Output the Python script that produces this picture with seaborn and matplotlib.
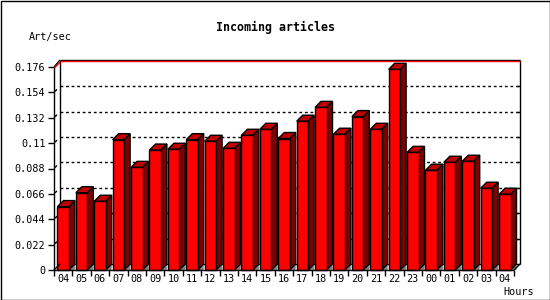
import numpy as np
import pandas as pd
import matplotlib
matplotlib.use("Agg")
import matplotlib.pyplot as plt
import seaborn as sns
from matplotlib.patches import Polygon, Rectangle
from matplotlib.lines import Line2D

# ---- data ----
hours = ["04", "05", "06", "07", "08", "09", "10", "11", "12", "13", "14", "15",
         "16", "17", "18", "19", "20", "21", "22", "23", "00", "01", "02", "03", "04"]
rates = [0.055, 0.067, 0.0596, 0.113, 0.089, 0.104, 0.1047, 0.113, 0.1116, 0.1055,
         0.1168, 0.122, 0.114, 0.129, 0.141, 0.1177, 0.133, 0.122, 0.174, 0.102,
         0.0865, 0.0934, 0.0943, 0.0709, 0.0657]
ytick_vals = [0, 0.022, 0.044, 0.066, 0.088, 0.11, 0.132, 0.154, 0.176]
ytick_labels = ["0", "0.022", "0.044", "0.066", "0.088", "0.11", "0.132", "0.154", "0.176"]
title = "Incoming articles"
ylabel = "Art/sec"
xlabel = "Hours"

sns.set_style("white")
plt.rcParams["font.family"] = ["DejaVu Sans Mono", "DejaVu Sans"]

W, H = 550, 300
fig = plt.figure(figsize=(W / 100, H / 100), dpi=100)
fig.patch.set_facecolor("white")
ax = fig.add_axes([54 / W, 30 / H, 460 / W, 203 / H])
ax.set_facecolor("none")

df = pd.DataFrame({"slot": list(range(len(rates))), "rate": rates})
sns.barplot(data=df, x="slot", y="rate", color="#ff0000", saturation=1, width=0.62,
            edgecolor="black", linewidth=1, ax=ax, zorder=5)

xl, xr = -0.5, len(rates) - 0.5
ymax = ytick_vals[-1]
ax.set_xlim(xl, xr)
ax.set_ylim(0, ymax)
for s in ax.spines.values():
    s.set_visible(False)

D = 6


def back(x, y, dx=D, dy=D):
    px, py = ax.transData.transform((x, y))
    return tuple(ax.transData.inverted().transform((px + dx, py + dy)))


def line(p, q, color="black", lw=1, z=6, ls="-"):
    ax.add_line(Line2D([p[0], q[0]], [p[1], q[1]], color=color, lw=lw, zorder=z,
                       linestyle=ls, clip_on=False, solid_capstyle="butt"))


# back wall & grid
BL = back(xl, 0)
TL = back(xl, ymax, dy=D + 1)
TR = back(xr, ymax, dy=D + 1)
BR = back(xr, 0)
line(BL, TL, z=1)
line(TL, TR, z=1)
line(TR, BR, z=1)
line(BL, BR, z=1)
line(back(xl, ymax, dy=D - 0.5), back(xr, ymax, dy=D - 0.5), color="#ff0000", z=1)
for v in ytick_vals[1:-1]:
    line(back(xl, v), back(xr, v), ls=(0, (2, 2)), z=1)
    # little diagonal mark near front axis
    line(back(xl, v, 1, 1), back(xl, v, 3, 3), z=6)
    # small tick on right wall
    line(back(xr, v, D - 3, D), back(xr, v), z=1)

# 3D bars
for p in list(ax.patches):
    x0 = p.get_x()
    w = p.get_width()
    h = p.get_height()
    x1 = x0 + w
    shadow = Polygon([(x1, 0), back(x1, 0), (back(x1, 0)[0], 0)], closed=True,
                     facecolor="#808080", edgecolor="none", zorder=4, clip_on=False)
    side = Polygon([(x1, 0), (x1, h), back(x1, h), back(x1, 0)], closed=True,
                   facecolor="#800000", edgecolor="black", lw=1, zorder=4, clip_on=False)
    top = Polygon([(x0, h), (x1, h), back(x1, h), back(x0, h)], closed=True,
                  facecolor="#c00000", edgecolor="black", lw=1, zorder=4, clip_on=False)
    ax.add_patch(shadow)
    ax.add_patch(side)
    ax.add_patch(top)
    p.set_clip_on(False)

# front frame
line((xl, 0), (xl, ymax), z=7)
line((xl, 0), (xr, 0), z=7)
line((xl, ymax), TL, z=7)
line(back(xl, ymax, dx=0.5, dy=-0.8), back(xl, ymax, dx=D + 0.5, dy=D - 0.8), color="#ff0000", z=7)
line((xl, 0), BL, z=7)
line((xr, 0), BR, z=7)

# ticks
ax.set_yticks(ytick_vals)
ax.set_yticklabels(ytick_labels)
ax.set_xticks(range(len(hours)))
ax.set_xticklabels(hours)
ax.set_xticks(np.arange(xl, xr + 0.01, 1.0), minor=True)
ax.tick_params(axis="y", left=True, length=4, width=1, color="black", pad=2.2,
               labelsize=7.3, labelcolor="black", direction="out")
ax.tick_params(axis="x", which="major", bottom=True, length=0, pad=3, labelsize=7.3,
               labelcolor="black")
ax.tick_params(axis="x", which="minor", bottom=True, length=4, width=1, color="black",
               direction="out")
ax.set_xlabel("")
ax.set_ylabel("")

fig.text(275 / W, 1 - 27 / H, title, ha="center", va="center", fontsize=8.4,
         fontweight="bold", color="black")
fig.text(50 / W, 1 - 37 / H, ylabel, ha="center", va="center", fontsize=7.3, color="black")
fig.text(519 / W, 1 - 292 / H, xlabel, ha="center", va="center", fontsize=7.3, color="black")

fig.patches.append(Rectangle((0.5 / W, 0.5 / H), (W - 1) / W, (H - 1) / H,
                             transform=fig.transFigure, fill=False, edgecolor="black",
                             lw=1, zorder=10))

fig.savefig("out.png", dpi=100)
